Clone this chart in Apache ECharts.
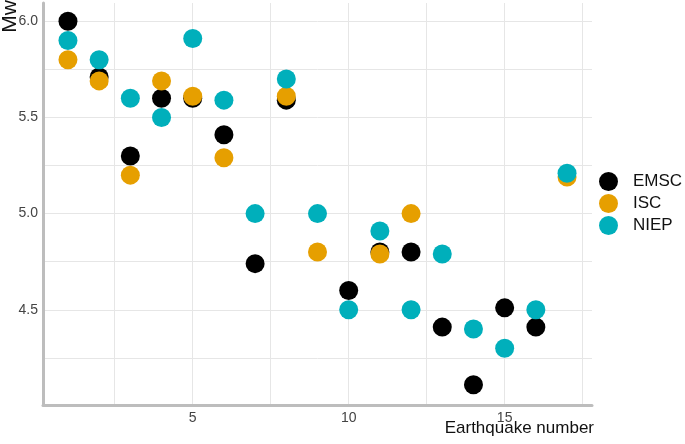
<!DOCTYPE html>
<html><head><meta charset="utf-8">
<script src="https://cdn.jsdelivr.net/npm/echarts@6/dist/echarts.min.js"></script>
<style>html,body{margin:0;padding:0;background:#fff}#c{width:685px;height:444px}</style>
</head><body><div id="c"></div>
<script>
const quakeNumbers = [1,2,3,4,5,6,7,8,9,10,11,12,13,14,15,16,17];
const emsc = [6.0,5.71,5.3,5.6,5.6,5.41,4.74,5.59,null,4.6,4.8,4.8,4.41,4.11,4.51,4.41,null];
const isc  = [5.8,5.69,5.2,5.69,5.61,5.29,null,5.61,4.8,null,4.79,5.0,null,null,null,null,5.19];
const niep = [5.9,5.8,5.6,5.5,5.91,5.59,5.0,5.7,5.0,4.5,4.91,4.5,4.79,4.4,4.3,4.5,5.21];
const xTickLabels = [5,10,15];
const yTickLabels = [4.5,5.0,5.5,6.0];
const xGrid = [2.5,5,7.5,10,12.5,15,17.5];
const yGrid = [4.25,4.5,4.75,5.0,5.25,5.5,5.75,6.0];

const toPairs = arr => quakeNumbers.map((x,i)=>[x,arr[i]]).filter(p=>p[1]!==null);
const font = "'Liberation Sans Narrow','Liberation Sans',Arial,sans-serif";
const chart = echarts.init(document.getElementById('c'));
const pt = (name,color,data,z)=>({name,type:'scatter',data:toPairs(data),symbolSize:19,z,
  itemStyle:{color,opacity:1},emphasis:{disabled:true}});
chart.setOption({
  animation:false,
  grid:{left:43,right:93,top:3,bottom:39,containLabel:false},
  xAxis:{type:'value',min:0.2,max:17.8,z:20,
    axisLine:{show:true,onZero:false,lineStyle:{color:'#bdbdbd',width:3}},
    axisTick:{show:false},splitLine:{show:false},
    axisLabel:{customValues:xTickLabels,color:'#444',fontSize:14,fontFamily:font,margin:6}},
  yAxis:{type:'value',min:4.005,max:6.095,z:20,
    axisLine:{show:true,onZero:false,lineStyle:{color:'#bdbdbd',width:3}},
    axisTick:{show:false},splitLine:{show:false},
    axisLabel:{customValues:yTickLabels,formatter:v=>v.toFixed(1),color:'#444',fontSize:14,fontFamily:font,margin:5}},
  legend:{orient:'vertical',left:594,top:167,itemWidth:19,itemHeight:19,itemGap:3,icon:'circle',
    data:['EMSC','ISC','NIEP'],textStyle:{fontSize:17,color:'#111',fontFamily:font,padding:[0,0,0,10]}},
  graphic:[
    {type:'text',left:0,top:0,rotation:Math.PI/2,style:{text:'Mw',font:"21px 'Liberation Sans',Arial,sans-serif",fill:'#111'}},
    {type:'text',right:91,top:420,style:{text:'Earthquake number',font:"17px 'Liberation Sans Narrow','Liberation Sans',Arial,sans-serif",fill:'#111'}}
  ],
  series:[
    {name:'grid',type:'scatter',data:[],z:0,silent:true,
      markLine:{silent:true,z:0,symbol:'none',label:{show:false},animation:false,
        lineStyle:{color:'#e6e6e6',width:1,type:'solid'},
        data:[...xGrid.map(v=>({xAxis:v})),...yGrid.map(v=>({yAxis:v}))]}},
    pt('EMSC','#000000',emsc,10),
    pt('ISC','#E69F00',isc,11),
    pt('NIEP','#00AFBB',niep,12)
  ]
});
</script></body></html>
